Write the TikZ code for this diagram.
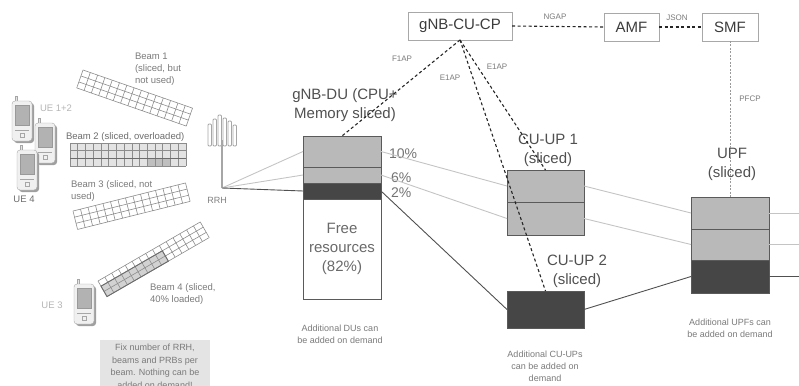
\documentclass[tikz,border=0pt]{standalone}
\usepackage{fontspec}
\setmainfont{Liberation Sans}
\usetikzlibrary{positioning}
\definecolor{slicelight}{HTML}{B9B9B9}
\definecolor{slicedark}{HTML}{464646}
\definecolor{boxline}{HTML}{5A5A5A}
\definecolor{nfline}{HTML}{A8A8A8}
\definecolor{nftext}{HTML}{3C3C3C}
\definecolor{titletext}{HTML}{505050}
\definecolor{smalltext}{HTML}{7A7A7A}
\definecolor{paletext}{HTML}{B5B5B5}
\definecolor{linklight}{HTML}{C4C4C4}
\definecolor{linkdark}{HTML}{505050}
\definecolor{ctrlline}{HTML}{252525}
\definecolor{beamline}{HTML}{8C8C8C}
\definecolor{notefill}{HTML}{E4E4E4}

% grid of PRBs: cols, rows, cell width, cell height
\newcommand{\beamcells}[4]{%
  \foreach \c in {0,...,#1} \draw[beamline,line width=0.6pt] (\c*#3,0) -- (\c*#3,#2*#4);
  \foreach \r in {0,...,#2} \draw[beamline,line width=0.6pt] (0,\r*#4) -- (#1*#3,\r*#4);
}
% handset, top left corner of the body at #1,#2
\newcommand{\uephone}[2]{%
  \begin{scope}[shift={(#1,#2)}]
    \fill[gray!75,rounded corners=3pt] (2,2) rectangle (22,42);
    \draw[gray!70,fill=gray!20] (3,-5) rectangle (5.5,0);
    \draw[gray!70,fill=gray!12,rounded corners=3pt] (0,0) rectangle (20,40);
    \draw[gray!80,fill=gray!60] (3,4) rectangle (17,24);
    \draw[gray!70] (3,29) -- (17,29);
    \draw[gray!70] (8,32) rectangle (12,36);
  \end{scope}}

\begin{document}
\begin{tikzpicture}[x=1pt,y=-1pt,
  every node/.style={font=\fontsize{9.5}{12}\selectfont,align=center,inner sep=0pt,outer sep=0pt},
  nf/.style={draw=nfline,line width=0.8pt,fill=white,minimum height=28pt,font=\fontsize{15}{18}\selectfont,text=nftext},
  slice/.style={draw=boxline,line width=0.9pt,fill=slicelight,minimum width=78pt},
  dslice/.style={slice,fill=slicedark},
  title/.style={font=\fontsize{15}{19}\selectfont,text=titletext},
  pct/.style={font=\fontsize{14}{16}\selectfont,text=titletext!80,anchor=west},
  proto/.style={font=\fontsize{8}{10}\selectfont,text=smalltext},
  remark/.style={font=\fontsize{9}{12.5}\selectfont,text=smalltext},
  lightlink/.style={draw=linklight,line width=0.9pt},
  darklink/.style={draw=linkdark,line width=0.9pt},
  ctrl/.style={draw=ctrlline,line width=1.1pt,dash pattern=on 3pt off 2.5pt},
  pfcp/.style={draw=gray!80,line width=1pt,dash pattern=on 2pt off 1.5pt}]
\useasboundingbox (0,0) rectangle (799,385);
\clip (0,0) rectangle (799,385);

% control plane
\node[nf,minimum width=104pt] (cucp) at (460,26) {gNB-CU-CP};
\node[nf,minimum width=55pt] (amf) at (631.5,27) {AMF};
\node[nf,minimum width=56pt] (smf) at (730,27) {SMF};

% gNB-DU slices
\node[slice,minimum height=31pt] (du1) at (342,151.5) {};
\node[slice,minimum height=16pt,below=0pt of du1] (du2) {};
\node[dslice,minimum height=16pt,below=0pt of du2] (du3) {};
\node[slice,fill=white,minimum height=100pt,below=0pt of du3,title,text=titletext!85] (dufree) {Free\\resources\\(82\%)};
\node[title] (dutitle) at (345,105) {gNB-DU (CPU+\\Memory sliced)};
\node[pct] (p10) at (389,154) {10\%};
\node[pct] (p6) at (391,178) {6\%};
\node[pct] (p2) at (391,193) {2\%};
\node[remark] (dunote) at (340,334.5) {Additional DUs can\\be added on demand};

% CU-UPs
\node[slice,minimum width=77pt,minimum height=32pt] (cuup1a) at (545.5,186) {};
\node[slice,minimum width=77pt,minimum height=33pt,below=0pt of cuup1a] (cuup1b) {};
\node[title] (cuup1t) at (548,150) {CU-UP 1\\(sliced)};
\node[dslice,minimum width=77pt,minimum height=37pt] (cuup2) at (545.5,309.5) {};
\node[title] (cuup2t) at (577,271) {CU-UP 2\\(sliced)};
\node[remark,font=\fontsize{9}{12}\selectfont] (cuupnote) at (545,366) {Additional CU-UPs\\can be added on\\demand};

% UPF
\node[slice,minimum height=32pt] (upf1) at (730,213) {};
\node[slice,minimum height=31pt,below=0pt of upf1] (upf2) {};
\node[dslice,minimum height=33pt,below=0pt of upf2] (upf3) {};
\node[title] (upft) at (732,164) {UPF\\(sliced)};
\node[remark,font=\fontsize{9}{12}\selectfont] (upfnote) at (730,328) {Additional UPFs can\\be added on demand};
\coordinate (out1) at (799,213);
\coordinate (out2) at (799,244.5);
\coordinate (out3) at (799,276.5);

% RRH
\coordinate (rrh) at (222,188);
\draw[gray!70,line width=2pt] (222,140) -- (rrh);
\foreach \px/\py in {208/124,213/119,218/115,223/118,228/121,233/125}
  \draw[gray!70,fill=white,line width=0.8pt,rounded corners=1pt] (\px,\py) rectangle (\px+3.5,146);
\node[font=\fontsize{9}{11}\selectfont,text=gray] (rrhl) at (217,200) {RRH};

% user plane links
\draw[lightlink] (rrh) -- (du1.west);
\draw[lightlink] (rrh) -- (du2.west);
\draw[darklink] (rrh) -- (du3.west);
\draw[lightlink] (du1.east) -- (cuup1a.west);
\draw[lightlink] (du2.east) -- (cuup1b.west);
\draw[darklink] (du3.east) -- (cuup2.west);
\draw[lightlink] (cuup1a.east) -- (upf1.west);
\draw[lightlink] (cuup1b.east) -- (upf2.west);
\draw[darklink] (cuup2.east) -- (upf3.west);
\draw[lightlink] (upf1.east) -- (out1);
\draw[lightlink] (upf2.east) -- (out2);
\draw[darklink] (upf3.east) -- (out3);

% signalling
\draw[ctrl] (cucp.south) -- (du1.north);
\draw[ctrl] (cucp.south) -- (cuup1a.north);
\draw[ctrl] (cucp.south) -- (cuup2.north);
\draw[ctrl] (cucp.east) -- (amf.west);
\draw[ctrl] (amf.east) -- (smf.west);
\draw[pfcp] (smf.south) -- (upf1.north);
\node[proto] (f1ap) at (402,59) {F1AP};
\node[proto] (e1apa) at (450,78) {E1AP};
\node[proto] (e1apb) at (497,67) {E1AP};
\node[proto] (ngap) at (555,17) {NGAP};
\node[proto] (json) at (677,18) {JSON};
\node[proto] (pfcpl) at (750,99) {PFCP};

% beams
\begin{scope}[shift={(83,70)},rotate=-19.2]
  \beamcells{15}{3}{7.73}{6.33}
\end{scope}
\begin{scope}[shift={(70,143)}]
  \fill[gray!22] (0,0) rectangle (116,23);
  \fill[gray!50] (10*7.73,15.33) rectangle (13*7.73,23);
  \beamcells{15}{3}{7.73}{7.67}
  \draw[gray!85!black,line width=1.4pt] (0,15.33) -- (116,15.33);
\end{scope}
\begin{scope}[shift={(73,211)},rotate=14]
  \beamcells{15}{3}{7.73}{6.33}
\end{scope}
\begin{scope}[shift={(98,281)},rotate=30]
  \fill[gray!35] (0,6) rectangle (9*7.87,18);
  \beamcells{15}{3}{7.87}{6}
  \draw[gray!85!black,line width=0.9pt] (0,6) rectangle (9*7.87,18);
\end{scope}
\node[anchor=west,text=smalltext,align=left] (b1) at (135,69) {Beam 1\\(sliced, but\\not used)};
\node[anchor=west,text=gray!85!black] (b2) at (66,137) {Beam 2 (sliced, overloaded)};
\node[anchor=west,text=smalltext,align=left] (b3) at (71,191.5) {Beam 3 (sliced, not\\used)};
\node[anchor=west,text=smalltext,align=left] (b4) at (150,294) {Beam 4 (sliced,\\40\% loaded)};

% UEs
\uephone{12}{101}
\uephone{35}{123}
\uephone{17}{150}
\uephone{74}{284}
\node[text=paletext] (ue12) at (56,108) {UE 1+2};
\node[text=gray!85!black] (ue4) at (24,199) {UE 4};
\node[text=paletext] (ue3) at (52,305) {UE 3};

% fixed radio part
\node[fill=notefill,text=smalltext,font=\fontsize{9}{12.5}\selectfont,minimum width=110pt,inner sep=4pt] (fixnote) at (155,366.5) {Fix number of RRH,\\beams and PRBs per\\beam. Nothing can be\\added on demand!};
\end{tikzpicture}
\end{document}
